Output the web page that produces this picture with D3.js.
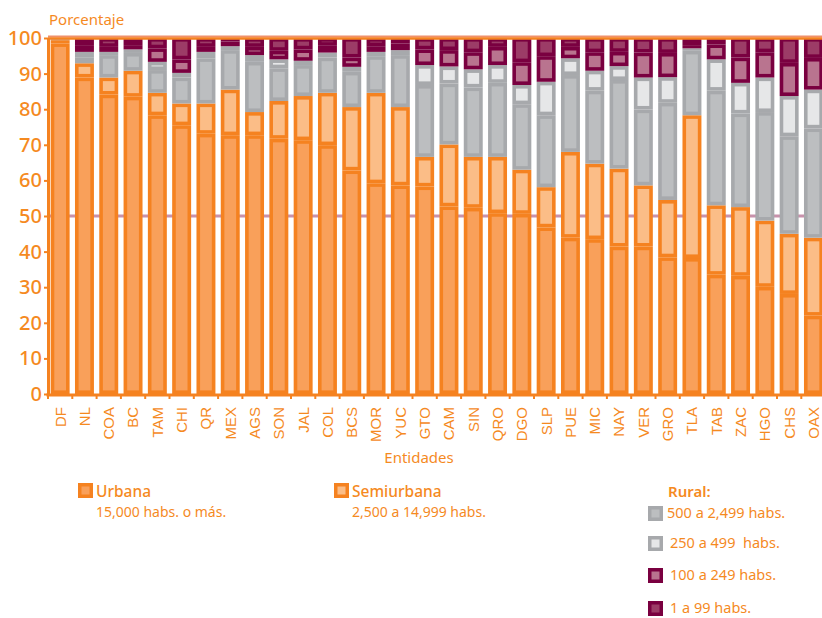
<!DOCTYPE html>
<html>
<head>
<meta charset="utf-8">
<script src="https://cdn.jsdelivr.net/npm/d3@7"></script>
<style>
  body { margin: 0; background: #fff; }
  svg { display: block; }
  text { fill: #F58A1F; }
</style>
</head>
<body>
<div id="chart"></div>
<script>
// Entidades federativas, ordenadas por % urbano
const entidades = ["DF","NL","COA","BC","TAM","CHI","QR","MEX","AGS","SON","JAL","COL","BCS","MOR","YUC","GTO",
  "CAM","SIN","QRO","DGO","SLP","PUE","MIC","NAY","VER","GRO","TLA","TAB","ZAC","HGO","CHS","OAX"];

// porcentajes por tamaño de localidad
const urbana     = [98.5,88.9,84.1,83.5,78.3,75.5,73.1,72.7,72.7,71.7,71.3,69.9,62.8,59.2,58.6,58.3,
  52.7,52.3,50.8,50.6,46.8,43.9,43.5,41.4,41.4,38.4,38.2,33.5,33.2,30.1,28.1,22.0];
const semiurbana = [0.9,4.0,4.8,7.3,6.3,6.1,8.5,12.8,6.5,10.6,12.4,14.7,17.8,25.4,22.0,8.3,
  17.4,14.3,15.8,12.4,11.3,24.1,21.2,21.9,17.2,16.1,40.1,19.5,19.3,18.6,16.9,21.9];
const rural500   = [0.2,1.7,6.3,5.0,6.4,7.3,12.7,11.1,14.1,9.2,8.7,9.9,9.9,10.3,14.6,20.2,
  17.1,19.5,20.8,18.4,20.2,21.6,20.5,24.9,21.3,27.3,18.1,32.2,26.3,30.5,27.4,30.7];
const rural250   = [0.1,1.5,0.9,1.0,2.3,1.3,1.8,1.1,1.9,2.5,1.2,1.4,1.4,1.2,1.4,5.6,
  4.8,5.1,5.0,5.4,9.4,4.7,5.6,3.9,9.0,7.2,0.7,8.8,8.6,9.7,11.3,10.9];
const rural100   = [0.1,1.9,1.4,1.2,3.8,3.8,1.4,1.3,2.3,2.4,3.2,1.9,2.6,1.6,1.9,4.4,
  4.6,4.8,5.1,6.4,7.2,3.2,5.2,4.0,7.0,6.8,0.9,4.2,7.1,7.1,9.3,8.9];
const rural1     = [0.2,2.0,2.5,2.0,2.9,6.0,2.5,1.0,2.5,3.6,3.2,2.2,5.5,2.3,1.5,3.2,
  3.4,4.0,2.5,6.8,5.1,2.5,4.0,3.9,4.1,4.2,2.0,1.8,5.5,4.0,7.0,5.6];

const yTicks = [0,10,20,30,40,50,60,70,80,90,100];

const keys = ["urbana","semiurbana","rural500","rural250","rural100","rural1"];
const series = {urbana, semiurbana, rural500, rural250, rural100, rural1};
const borde = {urbana:"#F58220", semiurbana:"#F58220", rural500:"#A7A9AC", rural250:"#A7A9AC",
  rural100:"#7A0040", rural1:"#7A0040"};
const relleno = {urbana:"#F9A05A", semiurbana:"#FBBD87", rural500:"#BCBEC0", rural250:"#E6E7E8",
  rural100:"#B9748F", rural1:"#9C3C67"};

const width = 822, height = 618;
const orange = "#F58220";

const table = entidades.map((e, i) => {
  const row = {ent: e};
  keys.forEach(k => row[k] = series[k][i]);
  return row;
});
const stacked = d3.stack().keys(keys)(table);

const svg = d3.select("#chart").append("svg")
  .attr("width", width).attr("height", height);

const x = d3.scaleBand().domain(entidades)
  .range([48, 48 + 32 * 24.3]).paddingInner(0.22).paddingOuter(0.11);
const y = d3.scaleLinear().domain([0, 100]).range([394, 38]);

// línea de 50%
svg.append("line")
  .attr("x1", 48).attr("x2", width)
  .attr("y1", y(50)).attr("y2", y(50))
  .attr("stroke", "#C892AC").attr("stroke-width", 3);

// barras apiladas (segmentos muy delgados: sólo el color del borde)
const sw = 3.6;
const layers = svg.append("g").selectAll("g")
  .data(stacked).join("g");

layers.each(function(s) {
  const k = s.key;
  const thin = d => (y(d[0]) - y(d[1])) <= sw * 1.5;
  d3.select(this).selectAll("rect")
    .data(s)
    .join("rect")
    .attr("x", d => thin(d) ? x(d.data.ent) : x(d.data.ent) + sw / 2)
    .attr("width", d => thin(d) ? x.bandwidth() : x.bandwidth() - sw)
    .attr("y", d => thin(d) ? y(d[1]) : y(d[1]) + sw / 2)
    .attr("height", d => thin(d) ? y(d[0]) - y(d[1]) : y(d[0]) - y(d[1]) - sw)
    .attr("fill", d => thin(d) ? borde[k] : relleno[k])
    .attr("stroke", d => thin(d) ? "none" : borde[k])
    .attr("stroke-width", sw);
});

// línea superior del 100%
svg.append("line")
  .attr("x1", 48).attr("x2", width)
  .attr("y1", y(100) - 1.5).attr("y2", y(100) - 1.5)
  .attr("stroke", "#F0906A").attr("stroke-width", 2);
svg.append("line")
  .attr("x1", 48).attr("x2", width)
  .attr("y1", y(100) + 0.5).attr("y2", y(100) + 0.5)
  .attr("stroke", orange).attr("stroke-width", 2.5);

// eje Y
const yAxis = svg.append("g")
  .attr("transform", "translate(48,0)")
  .call(d3.axisLeft(y).tickValues(yTicks).tickSize(4).tickPadding(2).tickSizeOuter(0));
yAxis.select(".domain").attr("stroke", orange).attr("stroke-width", 3);
yAxis.selectAll(".tick line").attr("stroke", orange).attr("stroke-width", 2);
yAxis.selectAll(".tick text")
  .attr("fill", "#F7941D")
  .style("font-family", "'Noto Sans', sans-serif")
  .style("font-size", "20px")
  .style("font-weight", 500);

// eje X
const xAxis = svg.append("g")
  .attr("transform", `translate(0,${y(0)})`)
  .call(d3.axisBottom(x).tickSize(0).tickSizeOuter(0));
xAxis.select(".domain").remove();
xAxis.append("line")
  .attr("x1", 46.5).attr("x2", width)
  .attr("y1", 1).attr("y2", 1)
  .attr("stroke", orange).attr("stroke-width", 3);
xAxis.selectAll(".sep")
  .data(entidades)
  .join("line")
  .attr("class", "sep")
  .attr("x1", d => x(d) - x.step() * x.paddingInner() / 2)
  .attr("x2", d => x(d) - x.step() * x.paddingInner() / 2)
  .attr("y1", 0).attr("y2", 5)
  .attr("stroke", orange).attr("stroke-width", 2);
xAxis.selectAll(".tick text")
  .attr("fill", "#F7941D")
  .style("font-family", "'Liberation Sans', Arial, sans-serif")
  .style("font-size", "15px")
  .attr("text-anchor", "end")
  .attr("transform", "rotate(-90)")
  .attr("x", -13)
  .attr("y", 0)
  .attr("dy", "0.36em");

// títulos de ejes
svg.append("text")
  .attr("x", 49).attr("y", 25)
  .style("font-family", "'Noto Sans', sans-serif")
  .style("font-size", "15px")
  .text("Porcentaje");
svg.append("text")
  .attr("x", 419).attr("y", 463)
  .attr("text-anchor", "middle")
  .style("font-family", "'Noto Sans', sans-serif")
  .style("font-size", "15px")
  .text("Entidades");

// leyenda
const legendFont = "'Noto Sans', sans-serif";
function swatch(px, py, k) {
  svg.append("rect")
    .attr("x", px + 1.75).attr("y", py + 1.75)
    .attr("width", 11.5).attr("height", 11.5)
    .attr("fill", relleno[k]).attr("stroke", borde[k]).attr("stroke-width", 3.5);
}

const topLegend = [
  {k: "urbana", x: 78, title: "Urbana", sub: "15,000 habs. o más."},
  {k: "semiurbana", x: 334, title: "Semiurbana", sub: "2,500 a 14,999 habs."}
];
topLegend.forEach(d => {
  swatch(d.x, 483, d.k);
  svg.append("text").attr("x", d.x + 18).attr("y", 497)
    .style("font-family", legendFont).style("font-size", "15.5px").style("font-weight", 500)
    .text(d.title);
  svg.append("text").attr("x", d.x + 18).attr("y", 517)
    .style("font-family", legendFont).style("font-size", "14px")
    .text(d.sub);
});

svg.append("text").attr("x", 668).attr("y", 497)
  .style("font-family", legendFont).style("font-size", "15px").style("font-weight", 600)
  .text("Rural:");

const ruralLegend = [
  {k: "rural500", y: 506, label: "500 a 2,499 habs.", tx: 667},
  {k: "rural250", y: 536, label: "250 a 499  habs.", tx: 670},
  {k: "rural100", y: 568, label: "100 a 249 habs.", tx: 670},
  {k: "rural1", y: 601, label: "1 a 99 habs.", tx: 670}
];
ruralLegend.forEach(d => {
  swatch(648, d.y, d.k);
  svg.append("text").attr("x", d.tx).attr("y", d.y + 12)
    .attr("xml:space", "preserve")
    .style("white-space", "pre")
    .style("font-family", legendFont).style("font-size", "14.5px")
    .text(d.label);
});
</script>
</body>
</html>
